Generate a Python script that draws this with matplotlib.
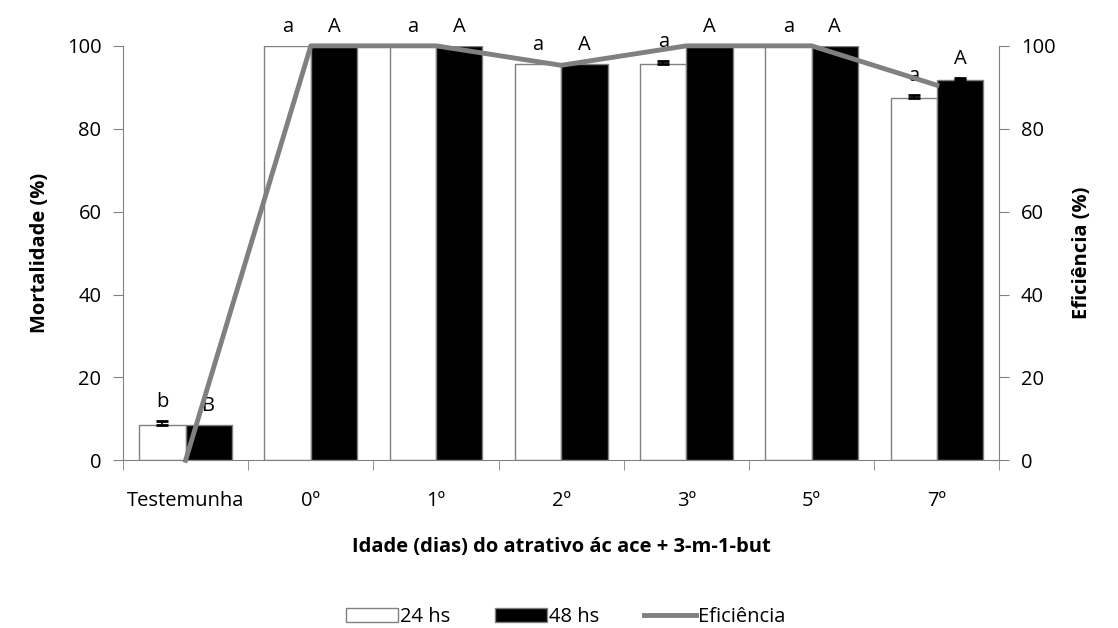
import matplotlib.pyplot as plt
import numpy as np

plt.rcParams['font.family'] = ['Open Sans', 'DejaVu Sans']

categorias = ['Testemunha', '0º', '1º', '2º', '3º', '5º', '7º']
mort_24 = [8.5, 100, 100, 95.6, 95.6, 100, 87.5]
mort_48 = [8.5, 100, 100, 95.6, 100, 100, 91.7]
erro_24 = [1.0, 0, 0, 0, 0.7, 0, 0.7]
erro_48 = [0, 0, 0, 0, 0, 0, 0.5]
eficiencia = [0, 100, 100, 95.3, 100, 100, 90.5]
letras_24 = ['b', 'a', 'a', 'a', 'a', 'a', 'a']
letras_48 = ['B', 'A', 'A', 'A', 'A', 'A', 'A']

cinza = '#808080'
fs = 14.5
fig = plt.figure(figsize=(11.18, 6.28), dpi=100)
ax = fig.add_axes([0.110, 0.267, 0.784, 0.660])

x = np.arange(len(categorias))
w = 0.37
ax.bar(x - w/2, mort_24, w, color='white', edgecolor=cinza, linewidth=1, label='24 hs')
ax.bar(x + w/2, mort_48, w, color='black', edgecolor=cinza, linewidth=1, label='48 hs')

# barras de erro (só onde há erro)
for desloc, vals, errs in [(-w/2, mort_24, erro_24), (w/2, mort_48, erro_48)]:
    for i in range(len(x)):
        if errs[i] > 0:
            ax.errorbar(x[i] + desloc, vals[i], yerr=[[0], [errs[i]]], fmt='none',
                        ecolor='black', elinewidth=1.2, capsize=4, capthick=2)

for i in range(len(x)):
    ax.text(x[i] - w/2, mort_24[i] + erro_24[i] + 2.2, letras_24[i], ha='center', va='bottom',
            fontsize=fs, clip_on=False)
    ax.text(x[i] + w/2, mort_48[i] + erro_48[i] + 2.2, letras_48[i], ha='center', va='bottom',
            fontsize=fs, clip_on=False)

ax.set_xlim(-0.5, len(x) - 0.5)
ax.set_ylim(0, 100)
ax.set_yticks(range(0, 101, 20))
ax.set_xticks(x)
ax.set_xticklabels(categorias)
ax.set_xticks(np.arange(len(x) + 1) - 0.5, minor=True)
ax.tick_params(axis='x', which='major', length=0, pad=22, labelsize=fs)
ax.tick_params(axis='x', which='minor', length=7.5, direction='out', color=cinza)
ax.tick_params(axis='y', length=7.5, direction='out', color=cinza, labelsize=fs, pad=8)
for s in ['top', 'right']:
    ax.spines[s].set_visible(False)
for s in ['left', 'bottom']:
    ax.spines[s].set_color(cinza)
ax.set_ylabel('Mortalidade (%)', fontsize=fs, fontweight='bold', labelpad=12)
ax.set_xlabel('Idade (dias) do atrativo ác ace + 3-m-1-but', fontsize=fs,
              fontweight='bold', labelpad=19)

ax2 = ax.twinx()
ax2.plot(x, eficiencia, color=cinza, linewidth=3.5, label='Eficiência', clip_on=False)
ax2.set_ylim(0, 100)
ax2.set_yticks(range(0, 101, 20))
ax2.tick_params(axis='y', length=7.5, direction='out', color=cinza, labelsize=fs, pad=8)
for s in ['top', 'left', 'bottom']:
    ax2.spines[s].set_visible(False)
ax2.spines['right'].set_color(cinza)
ax2.set_ylabel('Eficiência (%)', fontsize=fs, fontweight='bold', labelpad=12)

h1, l1 = ax.get_legend_handles_labels()
h2, l2 = ax2.get_legend_handles_labels()
fig.legend(h1 + h2, l1 + l2, loc='center', bbox_to_anchor=(0.506, 0.018), ncol=3,
           frameon=False, fontsize=fs, handlelength=2.6, handletextpad=0.1,
           columnspacing=2.2, handleheight=0.7)

fig.savefig('out.png', dpi=100)
